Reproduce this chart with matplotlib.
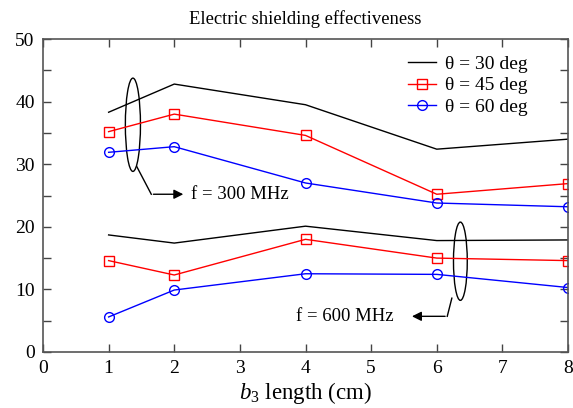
import matplotlib
matplotlib.use("Agg")
import matplotlib.pyplot as plt
from matplotlib.patches import Ellipse

plt.rcParams["font.family"] = ["Liberation Serif", "DejaVu Serif"]
plt.rcParams["mathtext.fontset"] = "custom"
plt.rcParams["mathtext.rm"] = "Liberation Serif"
plt.rcParams["mathtext.it"] = "Liberation Serif:italic"

# b3 length (cm)
x_vals = [1, 2, 4, 6, 8]

# f = 300 MHz
se300_t30 = [38.3, 42.8, 39.5, 32.4, 34.0]
se300_t45 = [35.2, 38.0, 34.6, 25.2, 26.9]
se300_t60 = [31.9, 32.8, 27.0, 23.8, 23.2]

# f = 600 MHz
se600_t30 = [18.7, 17.4, 20.1, 17.8, 17.9]
se600_t45 = [14.6, 12.3, 18.0, 15.0, 14.6]
se600_t60 = [5.6, 9.9, 12.5, 12.4, 10.3]

labels = ["θ = 30 deg", "θ = 45 deg", "θ = 60 deg"]

fig = plt.figure(figsize=(5.73, 4.08), dpi=100)
ax = fig.add_axes([43 / 573, 1 - 352 / 408, 525 / 573, 313 / 408])

mk = dict(markersize=7, markerfacecolor="none", markeredgewidth=1.0, linewidth=1.0)
ax.plot(x_vals, se300_t30, color="black", linewidth=1.0, label=labels[0])
ax.plot(x_vals, se300_t45, color="red", marker="s", label=labels[1], **mk)
ax.plot(x_vals, se300_t60, color="blue", marker="o", label=labels[2], **mk)
ax.plot(x_vals, se600_t30, color="black", linewidth=1.0)
ax.plot(x_vals, se600_t45, color="red", marker="s", **mk)
ax.plot(x_vals, se600_t60, color="blue", marker="o", **mk)

# group markers
ax.add_patch(Ellipse((1.37, 36.3), 0.23, 14.9, fill=False, color="black", linewidth=1.0))
ax.plot([1.43, 1.65], [29.6, 25.2], color="black", linewidth=1.0)
ax.annotate("", xy=(2.18, 25.2), xytext=(1.64, 25.2),
            arrowprops=dict(arrowstyle="-|>", color="black", lw=1.0, mutation_scale=14))
ax.text(2.25, 25.2, "f = 300 MHz", fontsize=13.5, va="center", ha="left")

ax.add_patch(Ellipse((6.36, 14.5), 0.21, 12.5, fill=False, color="black", linewidth=1.0))
ax.plot([6.23, 6.16], [8.6, 5.7], color="black", linewidth=1.0)
ax.annotate("", xy=(5.58, 5.7), xytext=(6.17, 5.7),
            arrowprops=dict(arrowstyle="-|>", color="black", lw=1.0, mutation_scale=14))
ax.text(5.34, 5.7, "f = 600 MHz", fontsize=13.5, va="center", ha="right")

ax.set_xlim(0, 8)
ax.set_ylim(0, 50)
ax.set_xticks(range(0, 9))
ax.set_yticks(range(0, 51, 10))
ax.set_yticks(range(5, 50, 10), minor=True)
ax.tick_params(which="both", direction="in", top=True, right=True, length=6,
               width=1.0, color="#444444", labelsize=14, pad=6)
for sp in ax.spines.values():
    sp.set_color("#555555")
    sp.set_linewidth(1.2)

ax.set_xlabel(r"$\mathit{b}_3$ length (cm)", fontsize=16.5, labelpad=2)
ax.set_title("Electric shielding effectiveness", fontsize=13.4, pad=11)

ax.legend(loc="upper left", bbox_to_anchor=(0.695, 0.948), frameon=False,
          fontsize=14, handlelength=1.45, handletextpad=0.45, labelspacing=0.2,
          borderaxespad=0, borderpad=0)

fig.savefig("out.png", dpi=100)
